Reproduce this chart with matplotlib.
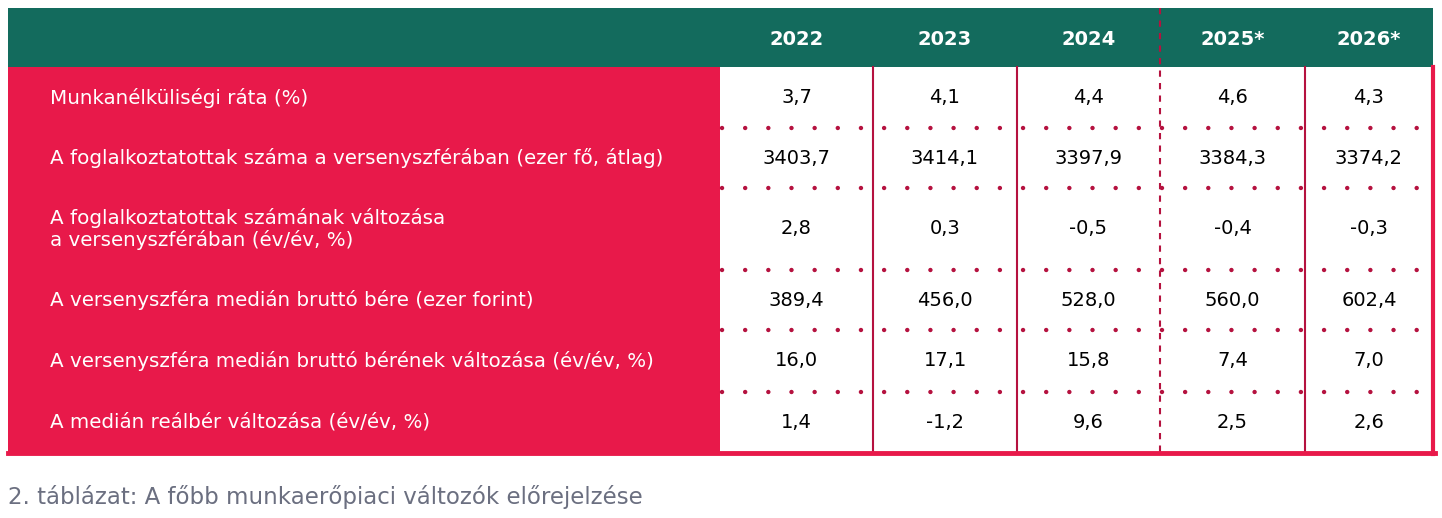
import matplotlib
matplotlib.use("Agg")
import matplotlib.pyplot as plt
from matplotlib.patches import Rectangle

years = ["2022", "2023", "2024", "2025*", "2026*"]
row_labels = [
    "Munkanélküliségi ráta (%)",
    "A foglalkoztatottak száma a versenyszférában (ezer fő, átlag)",
    "A foglalkoztatottak számának változása\na versenyszférában (év/év, %)",
    "A versenyszféra medián bruttó bére (ezer forint)",
    "A versenyszféra medián bruttó bérének változása (év/év, %)",
    "A medián reálbér változása (év/év, %)",
]
values = [
    ["3,7", "4,1", "4,4", "4,6", "4,3"],
    ["3403,7", "3414,1", "3397,9", "3384,3", "3374,2"],
    ["2,8", "0,3", "-0,5", "-0,4", "-0,3"],
    ["389,4", "456,0", "528,0", "560,0", "602,4"],
    ["16,0", "17,1", "15,8", "7,4", "7,0"],
    ["1,4", "-1,2", "9,6", "2,5", "2,6"],
]
caption = "2. táblázat: A főbb munkaerőpiaci változók előrejelzése"

GREEN = "#136b5d"
RED = "#e8194a"
DOT = "#b5123f"
FONT = "DejaVu Sans"

fig = plt.figure(figsize=(14.42, 5.18), dpi=100)
ax = fig.add_axes([0, 0, 1, 1])
ax.set_xlim(0, 1442)
ax.set_ylim(518, 0)
ax.axis("off")

left, right = 8, 1433
label_right = 720
col_edges = [720, 873, 1017, 1160, 1305, 1433]
top, head_bot = 8, 67
row_edges = [67, 128, 188, 270, 330, 392, 453]

ax.add_patch(Rectangle((left, top), right - left, head_bot - top, color=GREEN, lw=0))
ax.add_patch(Rectangle((left, head_bot), label_right - left, row_edges[-1] - head_bot, color=RED, lw=0))

for i, y in enumerate(years):
    cx = (col_edges[i] + col_edges[i + 1]) / 2
    ax.text(cx, (top + head_bot) / 2 + 2, y, color="white", fontsize=14,
            fontweight="bold", ha="center", va="center", family=FONT)

for r, lab in enumerate(row_labels):
    cy = (row_edges[r] + row_edges[r + 1]) / 2
    ax.text(50, cy, lab, color="white", fontsize=14.3, ha="left", va="center",
            family=FONT, linespacing=1.15)
    for c, v in enumerate(values[r]):
        cx = (col_edges[c] + col_edges[c + 1]) / 2
        ax.text(cx, cy, v, color="black", fontsize=14, ha="center", va="center", family=FONT)

for y in row_edges[1:-1]:
    ax.plot([label_right + 2, right - 2], [y, y], color=DOT, lw=3.2,
            linestyle=(0, (0.01, 5.2)), dash_capstyle="round")

for i, x in enumerate(col_edges[1:-1]):
    if i == 2:
        ax.plot([x, x], [top, row_edges[-1]], color=DOT, lw=1.5, linestyle=(0, (3, 3)))
    else:
        ax.plot([x, x], [head_bot, row_edges[-1]], color=DOT, lw=1.5)
ax.plot([right, right], [head_bot, row_edges[-1] + 1], color=RED, lw=3)
ax.plot([left, right + 1.5], [row_edges[-1], row_edges[-1]], color=RED, lw=3.5)

ax.text(8, 497, caption, color="#6b6f80", fontsize=16.5, ha="left", va="center", family=FONT)

fig.savefig("out.png", dpi=100, facecolor="white")
